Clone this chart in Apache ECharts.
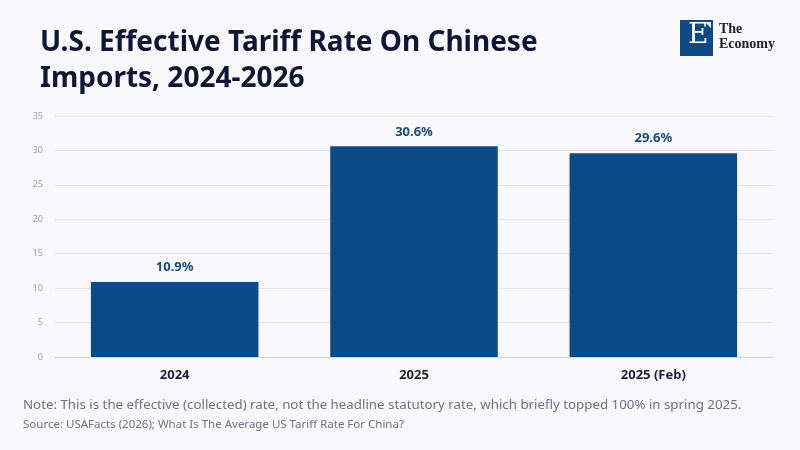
<!DOCTYPE html>
<html><head><meta charset="utf-8">
<script src="https://cdn.jsdelivr.net/npm/echarts@6/dist/echarts.min.js"></script>
<style>html,body{margin:0;padding:0;background:#f8f8fd;}#c{width:800px;height:450px;}</style>
</head><body><div id="c"></div>
<script>
const categories = ['2024', '2025', '2025 (Feb)'];
const values = [10.9, 30.6, 29.6];
const yTicks = [0, 5, 10, 15, 20, 25, 30, 35];

const chart = echarts.init(document.getElementById('c'));
chart.setOption({
  backgroundColor: '#f8f8fd',
  animation: false,
  title: {
    text: 'U.S. Effective Tariff Rate On Chinese\nImports, 2024-2026',
    left: 35, top: 20,
    textStyle: { fontFamily: 'Noto Sans', fontWeight: 'bold', fontSize: 28, color: '#0f1535', lineHeight: 36 }
  },
  graphic: [
    { type: 'rect', left: 680, top: 20, shape: { width: 33, height: 36 }, style: { fill: '#0b4a87' } },
    { type: 'text', left: 688, top: 22, style: { text: 'E', font: '28px "DejaVu Serif"', fill: '#ffffff' } },
    { type: 'polygon', shape: { points: [[705, 22], [711, 22], [711, 28]] }, style: { fill: '#ffffff' } },
    { type: 'text', left: 719, top: 22, style: { text: 'The\nEconomy', font: 'bold 14px "Liberation Serif"', lineHeight: 15, fill: '#222222' } },
    { type: 'text', left: 23, top: 399, style: { text: 'Note: This is the effective (collected) rate, not the headline statutory rate, which briefly topped 100% in spring 2025.', font: '13.3px "Noto Sans"', fill: '#6b7285' } },
    { type: 'text', left: 23, top: 419, style: { text: 'Source: USAFacts (2026); What Is The Average US Tariff Rate For China?', font: '11.5px "Noto Sans"', fill: '#6b7285' } }
  ],
  grid: { left: 55, right: 27, top: 116, bottom: 93, containLabel: false },
  xAxis: {
    type: 'category', data: categories,
    axisLine: { lineStyle: { color: '#cfd3da' } },
    axisTick: { show: false },
    axisLabel: { fontFamily: 'Noto Sans', fontWeight: 'bold', fontSize: 13, color: '#1a1f36', margin: 12 }
  },
  yAxis: {
    type: 'value', min: yTicks[0], max: yTicks[yTicks.length - 1], interval: 5,
    axisLine: { show: false }, axisTick: { show: false },
    axisLabel: { fontFamily: 'Noto Sans', fontSize: 9, color: '#9aa3b8', margin: 12 },
    splitLine: { lineStyle: { color: '#e2e5ec' } }
  },
  series: [{
    type: 'bar', data: values, barWidth: '70%',
    itemStyle: { color: '#0b4a87' },
    label: { show: true, position: 'top', distance: 8, formatter: p => p.value.toFixed(1) + '%',
      fontFamily: 'Noto Sans', fontWeight: 'bold', fontSize: 13, color: '#174a80' }
  }]
});
</script></body></html>
